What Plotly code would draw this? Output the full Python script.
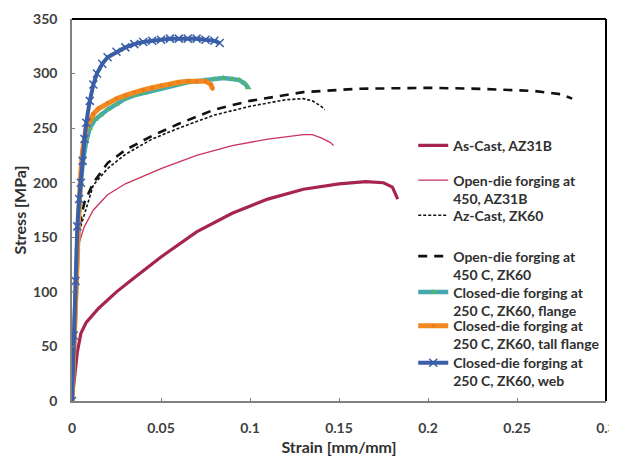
import plotly.graph_objects as go

# ---- data ----
ascast_az31b_x = [0, 0.003, 0.005, 0.008, 0.015, 0.025, 0.035, 0.05, 0.07, 0.09, 0.11, 0.13, 0.15, 0.165, 0.175, 0.18, 0.183]
ascast_az31b_y = [0, 45, 62, 72, 85, 100, 113, 132, 155, 172, 185, 194, 199, 201, 200, 196, 185]

opendie_az31b_x = [0, 0.002, 0.004, 0.007, 0.012, 0.02, 0.03, 0.05, 0.07, 0.09, 0.11, 0.13, 0.135, 0.14, 0.145, 0.147]
opendie_az31b_y = [0, 100, 145, 160, 175, 189, 199, 213, 225, 234, 240, 244, 244, 241, 237, 234]

ascast_zk60_x = [0, 0.002, 0.004, 0.007, 0.012, 0.02, 0.03, 0.045, 0.06, 0.08, 0.1, 0.12, 0.13, 0.135, 0.14, 0.142]
ascast_zk60_y = [0, 100, 155, 172, 198, 213, 226, 240, 250, 262, 270, 276, 277, 275, 270, 267]

opendie_zk60_x = [0, 0.002, 0.004, 0.007, 0.012, 0.02, 0.03, 0.045, 0.06, 0.08, 0.1, 0.13, 0.16, 0.2, 0.23, 0.26, 0.275, 0.281]
opendie_zk60_y = [0, 100, 160, 182, 200, 218, 230, 243, 254, 267, 275, 283, 286, 287, 286, 284, 281, 277]

flange_x = [0, 0.001, 0.002, 0.003, 0.004, 0.005, 0.006, 0.008, 0.01, 0.013, 0.016, 0.02, 0.025, 0.03, 0.035, 0.04, 0.045, 0.05, 0.055, 0.06, 0.065, 0.07, 0.075, 0.08, 0.085, 0.09, 0.094, 0.097, 0.099]
flange_y = [0, 50, 100, 140, 175, 200, 218, 238, 250, 258, 262, 267, 272, 277, 280, 282, 285, 287, 289, 290, 292, 293, 294, 295, 296, 295, 294, 291, 287]

tall_x = [0, 0.001, 0.002, 0.003, 0.004, 0.005, 0.006, 0.008, 0.01, 0.012, 0.015, 0.02, 0.025, 0.03, 0.035, 0.04, 0.045, 0.05, 0.055, 0.06, 0.065, 0.07, 0.075, 0.078, 0.079]
tall_y = [0, 50, 100, 145, 180, 210, 230, 250, 258, 263, 268, 273, 277, 280, 283, 285, 287, 289, 290, 292, 293, 293, 293, 290, 286]

web_x = [0, 0.001, 0.002, 0.003, 0.004, 0.005, 0.006, 0.007, 0.008, 0.01, 0.012, 0.014, 0.017, 0.02, 0.025, 0.03, 0.035, 0.04, 0.045, 0.05, 0.055, 0.06, 0.065, 0.07, 0.075, 0.08, 0.083]
web_y = [0, 60, 110, 160, 185, 200, 220, 240, 255, 275, 290, 300, 309, 315, 320, 324, 327, 329, 330, 331, 332, 332, 332, 332, 331, 330, 328]

names = [
    "As-Cast, AZ31B",
    "Open-die forging at<br>450, AZ31B",
    "Az-Cast, ZK60",
    "Open-die forging at<br>450 C, ZK60",
    "Closed-die forging at<br>250 C, ZK60, flange",
    "Closed-die forging at<br>250 C, ZK60, tall flange",
    "Closed-die forging at<br>250 C, ZK60, web",
]

x_ticks = [0, 0.05, 0.1, 0.15, 0.2, 0.25, 0.3]
x_ticklabels = ["0", "0.05", "0.1", "0.15", "0.2", "0.25", "0.3"]
y_ticks = [0, 50, 100, 150, 200, 250, 300, 350]

FONT = "Lato"
legend_ids = ["legend", "legend2", "legend3", "legend4", "legend5", "legend6", "legend7"]
legend_tops = [0.710, 0.619, 0.527, 0.420, 0.326, 0.238, 0.141]

fig = go.Figure()

fig.add_trace(go.Scatter(x=ascast_az31b_x, y=ascast_az31b_y, name=names[0], mode="lines",
                         legend=legend_ids[0], line=dict(color="#a62450", width=3.2)))
fig.add_trace(go.Scatter(x=opendie_az31b_x, y=opendie_az31b_y, name=names[1], mode="lines",
                         legend=legend_ids[1], line=dict(color="#c8345c", width=1.3)))
fig.add_trace(go.Scatter(x=ascast_zk60_x, y=ascast_zk60_y, name=names[2], mode="lines",
                         legend=legend_ids[2], line=dict(color="#111111", width=1.6, dash="3px,2px")))
fig.add_trace(go.Scatter(x=opendie_zk60_x, y=opendie_zk60_y, name=names[3], mode="lines",
                         legend=legend_ids[3], line=dict(color="#111111", width=2.6, dash="9px,7px")))
fig.add_trace(go.Scatter(x=flange_x, y=flange_y, name=names[4], mode="lines+markers",
                         legend=legend_ids[4], line=dict(color="#45aab0", width=4.5),
                         marker=dict(symbol="triangle-up", size=6, color="#56b46e")))
fig.add_trace(go.Scatter(x=tall_x, y=tall_y, name=names[5], mode="lines+markers",
                         legend=legend_ids[5], line=dict(color="#f28a22", width=5),
                         marker=dict(symbol="circle", size=4, color="#ee7a18")))
fig.add_trace(go.Scatter(x=web_x, y=web_y, name=names[6], mode="lines+markers",
                         legend=legend_ids[6], line=dict(color="#3a5ea8", width=4),
                         marker=dict(symbol="x-thin-open", size=8, line=dict(width=1.5, color="#2d4d98"))))

tickfont = dict(family=FONT, size=14, color="#404040", weight="bold")
titlefont = dict(family=FONT, size=16, color="#303030", weight="bold")

legend_layout = {}
for lid, top in zip(legend_ids, legend_tops):
    legend_layout[lid] = dict(
        x=0.639, y=top, xanchor="left", yanchor="top", valign="top",
        bgcolor="rgba(255,255,255,0)", borderwidth=0,
        font=dict(family=FONT, size=14, color="#303030", weight="bold"),
        tracegroupgap=0, itemwidth=30,
    )

fig.update_layout(
    width=609, height=448,
    margin=dict(l=64, r=11, t=11, b=55),
    paper_bgcolor="white", plot_bgcolor="white",
    font=dict(family=FONT, size=12, color="#404040"),
    showlegend=True,
    xaxis=dict(
        range=[0, 0.3], tickvals=x_ticks, ticktext=x_ticklabels, automargin=False,
        showgrid=False, zeroline=False, showline=True, linecolor="#808080", linewidth=1.5,
        ticks="inside", ticklen=3, tickcolor="#808080", tickfont=tickfont,
        ticklabelstandoff=13, ticklabeloverflow="allow",
        title=dict(text="Strain [mm/mm]", font=titlefont, standoff=20),
    ),
    yaxis=dict(
        range=[0, 350], tickvals=y_ticks, automargin=False,
        showgrid=False, zeroline=False, showline=True, linecolor="#808080", linewidth=1.5,
        ticks="inside", ticklen=3, tickcolor="#808080", tickfont=tickfont,
        ticklabelstandoff=10,
        title=dict(text="Stress [MPa]", font=titlefont, standoff=2),
    ),
    shapes=[
        dict(type="line", xref="paper", yref="paper", x0=0, x1=1, y0=1, y1=1, line=dict(color="black", width=2)),
        dict(type="line", xref="paper", yref="paper", x0=1, x1=1, y0=0, y1=1, line=dict(color="black", width=2)),
    ],
    **legend_layout,
)

fig.write_html("out.html")
